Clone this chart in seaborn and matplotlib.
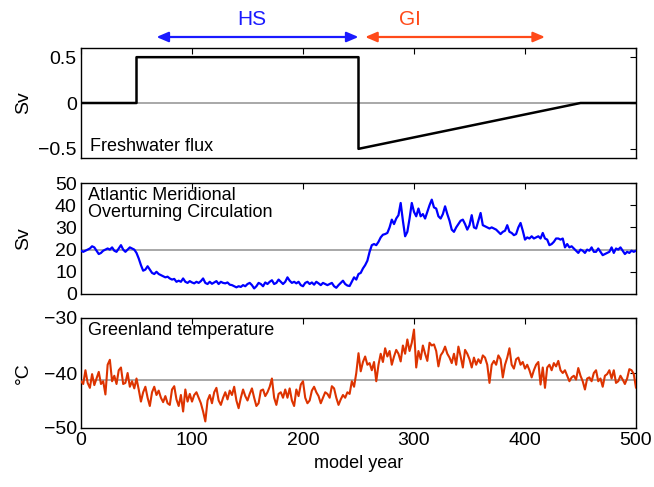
import numpy as np
import pandas as pd
import matplotlib
matplotlib.use("Agg")
import matplotlib.pyplot as plt
import seaborn as sns

# ---------------- data ----------------
flux_years = [0, 50, 50, 250, 250, 450, 500]
flux_values = [0, 0, 0.5, 0.5, -0.5, 0, 0]

amoc = [
    19.5, 19, 19.5, 20, 20.5, 21.5, 21, 19.5, 18, 18.5, 19.5, 20, 20.5, 20, 21, 19.5, 19, 20.5, 22, 20, 19, 20, 21, 20.5, 20,
    18.5, 16, 13, 10.5, 11, 12.5, 11, 9.5, 9, 10, 9, 8.5, 8, 7.5, 7.8, 7, 6.5, 6.8, 5.5, 6, 5.5, 7, 5.5, 5, 5.8, 5.2,
    4.8, 5.5, 5, 5.8, 7, 5, 4.5, 5.5, 4.6, 5.2, 5.8, 4.5, 5.5, 5, 4.8, 5.2, 4.2, 4, 3.5, 3, 3.5, 3.2, 4, 3.5, 4.5,
    5, 4, 2.5, 3.5, 5, 4.5, 3.5, 5.2, 4.5, 5.5, 6.2, 4.5, 5, 6.5, 5.5, 4.5, 5.5, 7.5, 6, 5, 5.5, 4.8, 5.5, 4, 3.5,
    5, 5.5, 4.5, 5.2, 4.2, 5.5, 4.8, 4, 5, 4.5, 4, 4.5, 5, 3.5, 2.8, 4, 5, 6, 4.5, 3.8, 3.6, 5.5, 7.5, 6.5, 9,
    9.5, 11.5, 13, 15, 19, 22, 22.5, 22, 23.5, 25.5, 26.7, 27, 27.5, 30, 33.5, 31.5, 34, 35.5, 41, 33, 26, 28, 34, 41, 37,
    35, 38.5, 35, 36, 34, 37, 40, 42.5, 39, 38.5, 35, 34, 36, 39.5, 36, 33, 29, 28, 30, 31.5, 33, 33.5, 31.5, 29, 31,
    35.5, 30, 29.5, 33, 36.5, 31, 30.5, 30, 29.5, 30, 29.5, 29, 28, 27, 28, 28.5, 31, 28, 27.5, 26.5, 27, 30, 32, 28.5, 24.5,
    25.5, 25, 26, 25, 25.5, 26, 25, 27.5, 25, 24.5, 22, 22.5, 23.5, 25, 25, 24.5, 25, 21, 22.5, 21, 21.5, 20.5, 19.5, 18.5, 20,
    19.5, 18.5, 20, 19.5, 21, 19, 19, 20.5, 19, 17.5, 18, 18.5, 19, 21, 18.5, 20.5, 20, 21, 19.5, 18, 19, 18.5, 19.5, 19, 19.5,
]

greenland_temp = [
    -41.5, -42, -39.5, -41.8, -42.7, -40.2, -42.2, -41, -39.8, -42, -41.5, -43.9, -38.5, -37.6, -41.5, -40.5, -42, -39.5, -39, -42, -41.8, -40, -42.5, -41.5, -42.8,
    -41, -43, -45.2, -43.5, -42.5, -44.5, -46, -43.5, -42.5, -44, -43.2, -44.5, -45.3, -44.2, -45.5, -45.8, -43, -42.4, -44.8, -46, -44, -47, -43, -45.2, -43.8,
    -45.2, -44, -43.5, -44.5, -45.5, -47, -48.8, -45, -44, -45.5, -43.5, -42.7, -45, -45.8, -44.5, -43.5, -44.8, -43.2, -44, -42.5, -45, -46.4, -44.5, -43, -44.2,
    -45, -43.8, -42.8, -44.5, -46, -45.5, -43.2, -43, -44.2, -43.5, -42.5, -41, -44.5, -45.8, -43.8, -43.5, -44.5, -43, -44.5, -42.8, -45, -46, -43, -44.2, -42.1,
    -41.5, -44.5, -45.5, -45, -43.2, -42.5, -43.5, -44.2, -45.5, -44.5, -43.5, -43.8, -44.5, -42.4, -42.8, -44.5, -45.8, -44.8, -44, -44.5, -43.5, -43.8, -41.5, -42.5, -40,
    -36.4, -39.7, -38, -37, -38.5, -38.2, -39.5, -38, -41.5, -38.5, -36.5, -38, -35.5, -37, -36, -38.5, -37, -35.8, -36.5, -37.9, -35, -36.5, -33.9, -36, -34.5,
    -32.1, -39, -36, -37.5, -35, -36.5, -37.8, -34.5, -35, -34.8, -36, -38.8, -36.8, -36.2, -35.2, -36.5, -37.2, -38.2, -36.5, -38.5, -35.2, -37, -39, -35.8, -36.5,
    -37.5, -39, -37.2, -38.5, -37.5, -38.2, -36.8, -37.2, -38.5, -41.8, -38.5, -37.8, -38.5, -36.8, -37.5, -40.8, -38.5, -37.2, -35.5, -38.5, -39.2, -37.5, -37.2, -38.5, -38,
    -39.2, -38.5, -39.5, -40.8, -39.5, -38.5, -38, -42.1, -39, -42.7, -39, -38.5, -39.5, -38.2, -38.8, -37.8, -39.5, -40, -39.5, -40.5, -41.5, -40.8, -40.5, -41.2, -39.1,
    -40.5, -41.5, -43, -41, -40.8, -41.5, -40, -39.5, -41.5, -41, -42.5, -40.5, -40.2, -39.5, -41, -39.5, -41.8, -41.5, -40.5, -41.2, -42, -41, -39.3, -39.5, -40.2,
    -42.7,
]

model_years = np.arange(0, 501, 2)

flux_ticks = [-0.5, 0, 0.5]
flux_ticklabels = ["\u22120.5", "0", "0.5"]
amoc_ticks = [0, 10, 20, 30, 40, 50]
temp_ticks = [-50, -40, -30]
temp_ticklabels = ["\u221250", "\u221240", "\u221230"]
year_ticks = [0, 100, 200, 300, 400, 500]

# ---------------- style ----------------
sns.set_style("white")
plt.rcParams["font.family"] = ["Liberation Sans", "DejaVu Sans"]
plt.rcParams["axes.linewidth"] = 1.0
plt.rcParams["axes.edgecolor"] = "black"
plt.rcParams["text.color"] = "black"
plt.rcParams["axes.labelcolor"] = "black"
plt.rcParams["xtick.color"] = "black"
plt.rcParams["ytick.color"] = "black"

fig = plt.figure(figsize=(6.54, 4.87), dpi=100)
W, H = 654, 487
left, right = 81 / W, 636 / W
panels = [(48, 158), (183, 294), (318, 428)]
axes = []
for top, bot in panels:
    ax = fig.add_axes([left, 1 - bot / H, right - left, (bot - top) / H])
    axes.append(ax)
ax1, ax2, ax3 = axes

df_flux = pd.DataFrame({"year": flux_years, "flux": flux_values})
df_amoc = pd.DataFrame({"year": model_years, "amoc": amoc})
df_temp = pd.DataFrame({"year": model_years, "temp": greenland_temp})

gray = "#9a9a9a"
tick_fs = 14

# Panel 1: freshwater flux
ax1.axhline(0, color=gray, lw=1.2, zorder=1)
sns.lineplot(data=df_flux, x="year", y="flux", ax=ax1, color="black", lw=1.8,
             estimator=None, sort=False, zorder=3)
ax1.set_ylim(-0.6, 0.6)
ax1.set_yticks(flux_ticks)
ax1.set_yticklabels(flux_ticklabels)
ax1.set_ylabel("Sv", fontsize=tick_fs)
ax1.text(8, -0.47, "Freshwater flux", fontsize=13, ha="left", va="center")

# Panel 2: AMOC
ax2.axhline(20, color=gray, lw=1.2, zorder=1)
sns.lineplot(data=df_amoc, x="year", y="amoc", ax=ax2, color="#0000ff", lw=1.6,
             estimator=None, zorder=3)
ax2.set_ylim(0, 50)
ax2.set_yticks(amoc_ticks)
ax2.set_ylabel("Sv", fontsize=tick_fs)
ax2.text(6, 48, "Atlantic Meridional\nOverturning Circulation", fontsize=13,
         ha="left", va="top", linespacing=0.95)

# Panel 3: Greenland temperature
ax3.axhline(-41.2, color=gray, lw=1.2, zorder=1)
sns.lineplot(data=df_temp, x="year", y="temp", ax=ax3, color="#dd3300", lw=1.5,
             estimator=None, zorder=3)
ax3.set_ylim(-50, -30)
ax3.set_yticks(temp_ticks)
ax3.set_yticklabels(temp_ticklabels)
ax3.set_ylabel("\u00b0C", fontsize=tick_fs)
ax3.text(6, -32.3, "Greenland temperature", fontsize=13, ha="left", va="center")
ax3.set_xlabel("model year", fontsize=13, labelpad=4)

for ax in axes:
    ax.set_xlim(0, 500)
    ax.set_xticks(year_ticks)
    ax.tick_params(direction="in", top=True, right=True, length=4, width=0.8,
                   labelsize=tick_fs, pad=3)
    for s in ax.spines.values():
        s.set_visible(True)
        s.set_color("black")
    if ax is not ax3:
        ax.set_xticklabels([])
        ax.set_xlabel("")
for ax in axes:
    ax.yaxis.set_label_coords(-0.088, 0.5)

# HS / GI arrows above the top panel
trans = ax1.get_xaxis_transform()
hs_col = "#1a1aff"
gi_col = "#ff4a1a"
ax1.annotate("", xy=(68, 1.1), xytext=(250, 1.1), xycoords=trans, textcoords=trans,
             arrowprops=dict(arrowstyle="<|-|>,head_length=0.7,head_width=0.3",
                             color=hs_col, lw=1.6, shrinkA=0, shrinkB=0),
             annotation_clip=False)
ax1.annotate("", xy=(256, 1.1), xytext=(418, 1.1), xycoords=trans, textcoords=trans,
             arrowprops=dict(arrowstyle="<|-|>,head_length=0.7,head_width=0.3",
                             color=gi_col, lw=1.6, shrinkA=0, shrinkB=0),
             annotation_clip=False)
ax1.text(154, 1.255, "HS", transform=trans, color=hs_col, fontsize=15,
         ha="center", va="center")
ax1.text(296, 1.255, "GI", transform=trans, color=gi_col, fontsize=15,
         ha="center", va="center")

fig.savefig("out.png", dpi=100)
